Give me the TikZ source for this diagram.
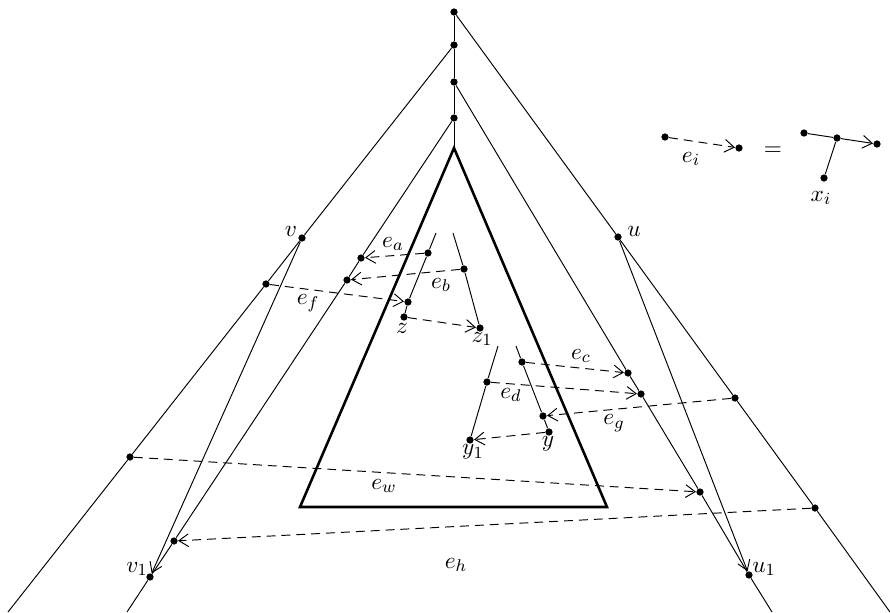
\documentclass[tikz,border=0pt]{standalone}
\usepackage{amsmath,amssymb}
\usepackage{tikz}
\usetikzlibrary{arrows.meta}

\begin{document}
\begin{tikzpicture}[
    x=0.47pt, y=-0.47pt,
    >={Straight Barb[length=4.5pt,width=6pt]},
    dot/.style={circle, fill=black, inner sep=0pt, minimum size=3.4pt},
    ln/.style={line width=0.45pt},
    arr/.style={->, line width=0.45pt},
    darr/.style={->, line width=0.45pt, dash pattern=on 4.2pt off 2.8pt},
    tri/.style={line width=1.2pt, line join=miter},
    lbl/.style={inner sep=1pt, font=\fontsize{11}{13}\selectfont}
]

\useasboundingbox (0,0) rectangle (890,612);

% spine on top
\node[dot] (t0) at (454,12) {};
\node[dot] (t1) at (454,45) {};
\node[dot] (t2) at (454,82) {};
\node[dot] (t3) at (454,118) {};

% triangle
\coordinate (apex) at (454,148);
\coordinate (bl) at (300,507);
\coordinate (br) at (607,507);

% free ends at the border
\coordinate (endR) at (890,612);
\coordinate (endL) at (8,612);
\coordinate (endr) at (772,612);
\coordinate (endl) at (127,612);

% dots on the four long lines
\node[dot] (u) at (618,237) {};
\node[dot] (gsrc) at (735,398) {};
\node[dot] (hsrc) at (815,508) {};
\node[dot] (v) at (302,238) {};
\node[dot] (fsrc) at (266,284) {};
\node[dot] (wsrc) at (130,457) {};
\node[dot] (ctgt) at (628,373) {};
\node[dot] (dtgt) at (641,394) {};
\node[dot] (wtgt) at (700,492) {};
\node[dot] (u1) at (749,575) {};
\node[dot] (atgt) at (361,258) {};
\node[dot] (btgt) at (347,280) {};
\node[dot] (htgt) at (174,541) {};
\node[dot] (v1) at (150,577) {};

% short pieces inside the triangle
\coordinate (za0) at (436,233);
\coordinate (zb0) at (453,233);
\coordinate (yc0) at (498,346);
\coordinate (yd0) at (516,346);
\node[dot] (asrc) at (428,253) {};
\node[dot] (ftgt) at (408,302) {};
\node[dot] (z) at (404,317) {};
\node[dot] (bsrc) at (464,269) {};
\node[dot] (z1) at (480,328) {};
\node[dot] (dsrc) at (487,382) {};
\node[dot] (y1) at (470,440) {};
\node[dot] (csrc) at (522,362) {};
\node[dot] (gtgt) at (543,416) {};
\node[dot] (y) at (549,432) {};

% legend
\node[dot] (l1) at (665,137) {};
\node[dot] (l2) at (739,148) {};
\node[dot] (r1) at (804,133) {};
\node[dot] (r2) at (837,138) {};
\node[dot] (r3) at (877,144) {};
\node[dot] (r4) at (824,178) {};

% ---- LINES ----
\draw[ln] (t0) -- (t1) -- (t2) -- (t3) -- (apex);
\draw[tri] (apex) -- (bl) -- (br) -- cycle;

\draw[ln] (t0) -- (u) -- (gsrc) -- (hsrc) -- (endR);
\draw[ln] (t1) -- (v) -- (fsrc) -- (wsrc) -- (endL);
\draw[ln] (t2) -- (ctgt) -- (dtgt) -- (wtgt) -- (u1) -- (endr);
\draw[ln] (t3) -- (atgt) -- (btgt) -- (htgt) -- (v1) -- (endl);

\draw[arr] (v) -- (v1);
\draw[arr] (u) -- (u1);

\draw[ln] (za0) -- (asrc) -- (ftgt) -- (z);
\draw[ln] (zb0) -- (bsrc) -- (z1);
\draw[ln] (yc0) -- (dsrc) -- (y1);
\draw[ln] (yd0) -- (csrc) -- (gtgt) -- (y);

% ---- DASHED ARROWS ----
\draw[darr] (asrc) -- (atgt);
\draw[darr] (bsrc) -- (btgt);
\draw[darr] (fsrc) -- (ftgt);
\draw[darr] (z) -- (z1);
\draw[darr] (csrc) -- (ctgt);
\draw[darr] (dsrc) -- (dtgt);
\draw[darr] (gsrc) -- (gtgt);
\draw[darr] (y) -- (y1);
\draw[darr] (wsrc) -- (wtgt);
\draw[darr] (hsrc) -- (htgt);

% legend
\draw[darr] (l1) -- (l2);
\draw[ln] (r1) -- (r2);
\draw[arr] (r2) -- (r3);
\draw[ln] (r2) -- (r4);

% ---- LABELS ----
\node[lbl] (vlbl) at (291,231) {$v$};
\node[lbl] (ulbl) at (634,231) {$u$};
\node[lbl] (v1lbl) at (137,569) {$v_1$};
\node[lbl] (u1lbl) at (764,569) {$u_1$};
\node[lbl] (zlbl) at (402,328) {$z$};
\node[lbl] (z1lbl) at (482,339) {$z_1$};
\node[lbl] (ylbl) at (548,444) {$y$};
\node[lbl] (y1lbl) at (473,452) {$y_1$};
\node[lbl] (ealbl) at (393,244) {$e_a$};
\node[lbl] (eblbl) at (441,285) {$e_b$};
\node[lbl] (eflbl) at (308,303) {$e_f$};
\node[lbl] (eclbl) at (581,356) {$e_c$};
\node[lbl] (edlbl) at (511,395) {$e_d$};
\node[lbl] (eglbl) at (614,423) {$e_g$};
\node[lbl] (ewlbl) at (384,486) {$e_w$};
\node[lbl] (ehlbl) at (456,565) {$e_h$};
\node[lbl] (eilbl) at (691,159) {$e_i$};
\node[lbl] (eqlbl) at (773,151) {$=$};
\node[lbl] (xilbl) at (821,198) {$x_i$};

\end{tikzpicture}
\end{document}
